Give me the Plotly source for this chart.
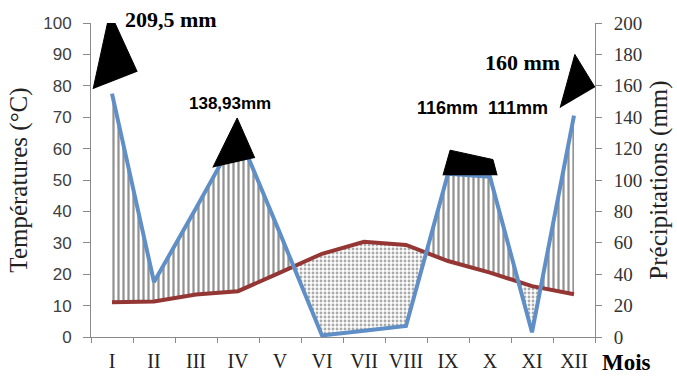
import plotly.graph_objects as go

# ---------------- data ----------------
months = ["I", "II", "III", "IV", "V", "VI", "VII", "VIII", "IX", "X", "XI", "XII"]
temperature_c = [11.1, 11.3, 13.5, 14.6, 20.5, 26.5, 30.3, 29.3, 24.2, 20.5, 16.2, 13.6]
precip_mm = [155, 35, 82, 130, 66, 1, 4, 7, 104, 102, 3, 141]

# black "cap" shapes over the big rainfall peaks (month position offsets, mm)
cap_x = [[-0.45, -0.05, 0.6], [2.4, 2.98, 3.4], [7.88, 8.05, 9.07, 9.17], [10.67, 11.02, 11.5]]
cap_mm = [[158, 207, 169], [108, 139.5, 114], [103, 119, 113, 103], [146, 180, 159]]

peak_labels = ["209,5 mm", "138,93mm", "116mm&nbsp;&nbsp;111mm", "160 mm"]
peak_label_x = [1.4, 2.8, 8.83, 9.77]
peak_label_y = [101, 74.5, 72.9, 87.3]   # in °C-axis units
peak_label_font = ["Liberation Serif", "Liberation Sans", "Liberation Sans", "Liberation Serif"]
peak_label_size = [22, 17, 18, 22]

y_ticks_left = list(range(0, 101, 10))
y_ticks_right = list(range(0, 201, 20))

# ---------------- derived ----------------
xs = list(range(len(months)))
p_half = [p / 2 for p in precip_mm]          # precipitation on the temperature scale (P = 2T)

pts = []
for i in xs:
    d = p_half[i] - temperature_c[i]
    pts.append((i, temperature_c[i], p_half[i], d))
    if i < len(xs) - 1:
        d2 = p_half[i + 1] - temperature_c[i + 1]
        if d * d2 < 0:
            t = d / (d - d2)
            xc = i + t
            yc = temperature_c[i] + t * (temperature_c[i + 1] - temperature_c[i])
            pts.append((xc, yc, yc, 0.0))

regions = []
cur = []
cur_sign = None
for p in pts:
    s = 0 if p[3] == 0 else (1 if p[3] > 0 else -1)
    if s == 0:
        if cur:
            cur.append(p)
            regions.append((cur_sign, cur))
        cur = [p]
        cur_sign = None
        continue
    if cur_sign is None:
        cur_sign = s
    cur.append(p)
if cur and cur_sign is not None:
    regions.append((cur_sign, cur))

fig = go.Figure()

for sign, run in regions:
    px = [p[0] for p in run] + [p[0] for p in reversed(run)]
    py = [p[2] for p in run] + [p[1] for p in reversed(run)]
    if sign > 0:
        pat = dict(shape="|", fgcolor="#262626", bgcolor="white", size=5, solidity=0.45)
    else:
        pat = dict(shape=".", fgcolor="#555555", bgcolor="white", size=4, solidity=0.4)
    fig.add_trace(go.Scatter(x=px, y=py, fill="toself", mode="lines",
                             line=dict(width=0, color="rgba(0,0,0,0)"),
                             fillcolor="rgba(0,0,0,0)", fillpattern=pat,
                             hoverinfo="skip", showlegend=False))

fig.add_trace(go.Scatter(x=xs, y=temperature_c, mode="lines",
                         line=dict(color="#943634", width=4), showlegend=False))
fig.add_trace(go.Scatter(x=xs, y=p_half, mode="lines",
                         line=dict(color="#5F8FC6", width=4), showlegend=False))

for cx, cm in zip(cap_x, cap_mm):
    fig.add_trace(go.Scatter(x=cx, y=[m / 2 for m in cm], fill="toself", mode="lines",
                             line=dict(color="black", width=1), fillcolor="black",
                             cliponaxis=False, hoverinfo="skip", showlegend=False))

fig.add_trace(go.Scatter(x=[0], y=[0], yaxis="y2", mode="markers",
                         marker=dict(opacity=0), hoverinfo="skip", showlegend=False))

for t, x, y, f, s in zip(peak_labels, peak_label_x, peak_label_y, peak_label_font, peak_label_size):
    fig.add_annotation(x=x, y=y / 100, xref="x", yref="paper", text="<b>%s</b>" % t,
                       showarrow=False, xanchor="center", yanchor="middle",
                       font=dict(family=f, size=s, color="black"))

fig.add_annotation(x=1.062, y=-0.08, xref="paper", yref="paper", text="<b>Mois</b>",
                   showarrow=False, xanchor="center", yanchor="middle",
                   font=dict(family="Liberation Serif", size=23, color="black"))

fig.update_layout(
    width=677, height=376,
    margin=dict(l=91, r=82, t=23, b=39),
    paper_bgcolor="white", plot_bgcolor="white",
    xaxis=dict(range=[-0.5, 11.5], tickvals=xs, ticktext=months, ticks="",
               showline=True, linecolor="#8a8a8a", linewidth=1, showgrid=False, zeroline=False,
               automargin=False,
               tickfont=dict(family="Liberation Serif", size=20, color="#222"),
               ticklabelstandoff=6,
               minor=dict(tickvals=[k - 0.5 for k in range(13)], ticks="outside",
                          ticklen=5, tickcolor="#8a8a8a", showgrid=False)),
    yaxis=dict(range=[0, 100], tickvals=y_ticks_left, ticks="outside", ticklen=7,
               tickcolor="#8a8a8a", showline=True, linecolor="#8a8a8a", showgrid=False,
               zeroline=False, automargin=False, ticklabelstandoff=8,
               tickfont=dict(family="Liberation Sans", size=17, color="#404040"),
               title=dict(text="Températures (°C)", standoff=8,
                          font=dict(family="Liberation Serif", size=25, color="#222"))),
    yaxis2=dict(range=[0, 200], tickvals=y_ticks_right, overlaying="y", side="right",
                ticks="outside", ticklen=6, tickcolor="#8a8a8a", showline=True,
                linecolor="#8a8a8a", showgrid=False, zeroline=False, automargin=False,
                ticklabelstandoff=8,
                tickfont=dict(family="Liberation Serif", size=19, color="#333"),
                title=dict(text="Précipitations (mm)", standoff=8,
                           font=dict(family="Liberation Serif", size=25, color="#222"))),
)

fig.write_html("out.html")
